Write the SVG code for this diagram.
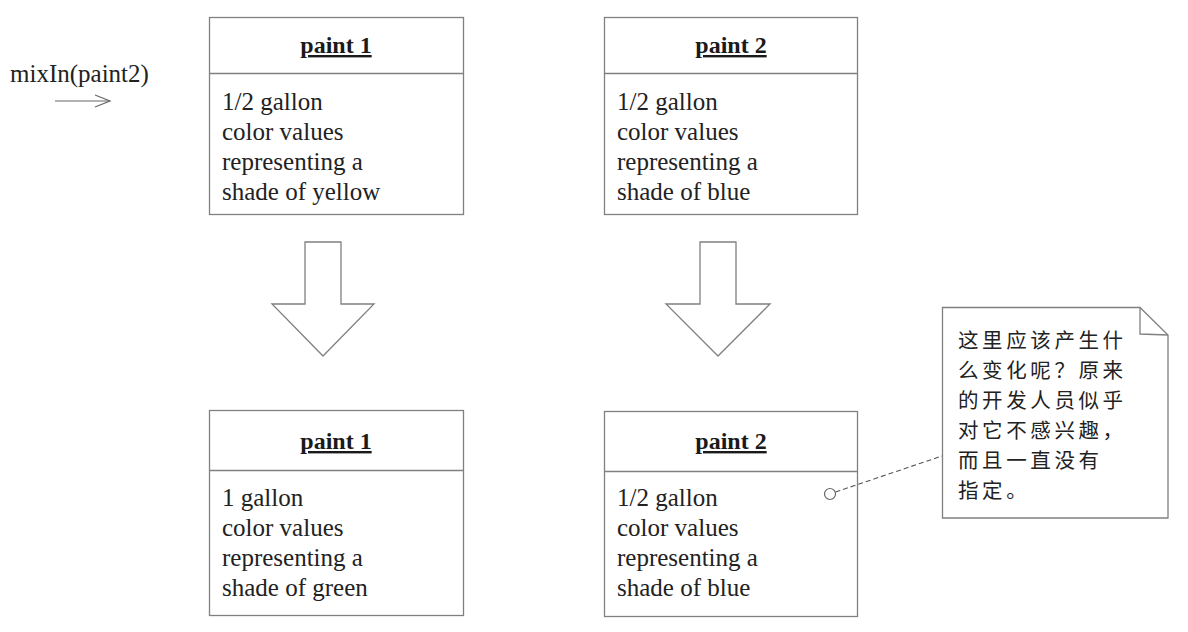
<svg xmlns="http://www.w3.org/2000/svg" width="1188" height="632" viewBox="0 0 1188 632">
<style>
.box{fill:#fff;stroke:#808080;stroke-width:1.3}
.div{stroke:#808080;stroke-width:1.3}
.hd{font-family:"Liberation Serif",serif;font-size:24px;font-weight:bold;fill:#1a1a1a;text-anchor:middle;text-decoration:underline}
.bd{font-family:"Liberation Serif",serif;font-size:25px;fill:#222}
.cn{font-family:"Noto Sans CJK SC",sans-serif;font-size:20.5px;letter-spacing:3.6px;fill:#222}
.arr{fill:#fff;stroke:#808080;stroke-width:1.3}
</style>
<rect width="1188" height="632" fill="#fff"/>
<g id="label-mixin">
<text class="bd" x="10" y="82">mixIn(paint2)</text>
<line x1="55" y1="101" x2="110" y2="101" stroke="#666" stroke-width="1.2"/>
<polyline points="95,95 110,101 95,107" fill="none" stroke="#666" stroke-width="1.2"/>
</g>
<g id="paint1-before">
<rect class="box" x="209.5" y="17.5" width="254" height="197"/>
<line class="div" x1="209.5" y1="73.5" x2="463.5" y2="73.5"/>
<text class="hd" x="336" y="53">paint 1</text>
<text class="bd" x="222" y="110">1/2 gallon</text>
<text class="bd" x="222" y="140">color values</text>
<text class="bd" x="222" y="170">representing a</text>
<text class="bd" x="222" y="200">shade of yellow</text>
</g>
<g id="paint2-before">
<rect class="box" x="604.5" y="17.5" width="253" height="197"/>
<line class="div" x1="604.5" y1="73.5" x2="857.5" y2="73.5"/>
<text class="hd" x="731" y="53">paint 2</text>
<text class="bd" x="617" y="110">1/2 gallon</text>
<text class="bd" x="617" y="140">color values</text>
<text class="bd" x="617" y="170">representing a</text>
<text class="bd" x="617" y="200">shade of blue</text>
</g>
<g id="paint1-after">
<rect class="box" x="209.5" y="410.5" width="254" height="205"/>
<line class="div" x1="209.5" y1="470.5" x2="463.5" y2="470.5"/>
<text class="hd" x="336" y="449">paint 1</text>
<text class="bd" x="222" y="506">1 gallon</text>
<text class="bd" x="222" y="536">color values</text>
<text class="bd" x="222" y="566">representing a</text>
<text class="bd" x="222" y="596">shade of green</text>
</g>
<g id="paint2-after">
<rect class="box" x="604.5" y="411.5" width="253" height="205"/>
<line class="div" x1="604.5" y1="471.5" x2="857.5" y2="471.5"/>
<text class="hd" x="731" y="449">paint 2</text>
<text class="bd" x="617" y="506">1/2 gallon</text>
<text class="bd" x="617" y="536">color values</text>
<text class="bd" x="617" y="566">representing a</text>
<text class="bd" x="617" y="596">shade of blue</text>
</g>
<g id="note">
<polygon class="box" points="942.5,307.5 1140,307.5 1168,335 1168,518 942.5,518"/>
<polyline points="1140,307.5 1140,334 1168,335" fill="none" stroke="#808080" stroke-width="1.3"/>
<text class="cn" x="958" y="348">这里应该产生什</text>
<text class="cn" x="958" y="378">么变化呢？原来</text>
<text class="cn" x="958" y="408">的开发人员似乎</text>
<text class="cn" x="958" y="438">对它不感兴趣，</text>
<text class="cn" x="958" y="468">而且一直没有</text>
<text class="cn" x="958" y="498">指定。</text>
</g>
<g id="connectors">
<polygon class="arr" points="305,242 341,242 341,304 374,304 323,356 272,304 305,304"/>
<polygon class="arr" points="700,242 736,242 736,304 770,304 718,356 666,304 700,304"/>
<circle cx="830" cy="494" r="5.5" fill="#fff" stroke="#666" stroke-width="1.2"/>
<line x1="835.5" y1="492" x2="942" y2="456" stroke="#555" stroke-width="1.1" stroke-dasharray="5,3"/>
</g>
</svg>
